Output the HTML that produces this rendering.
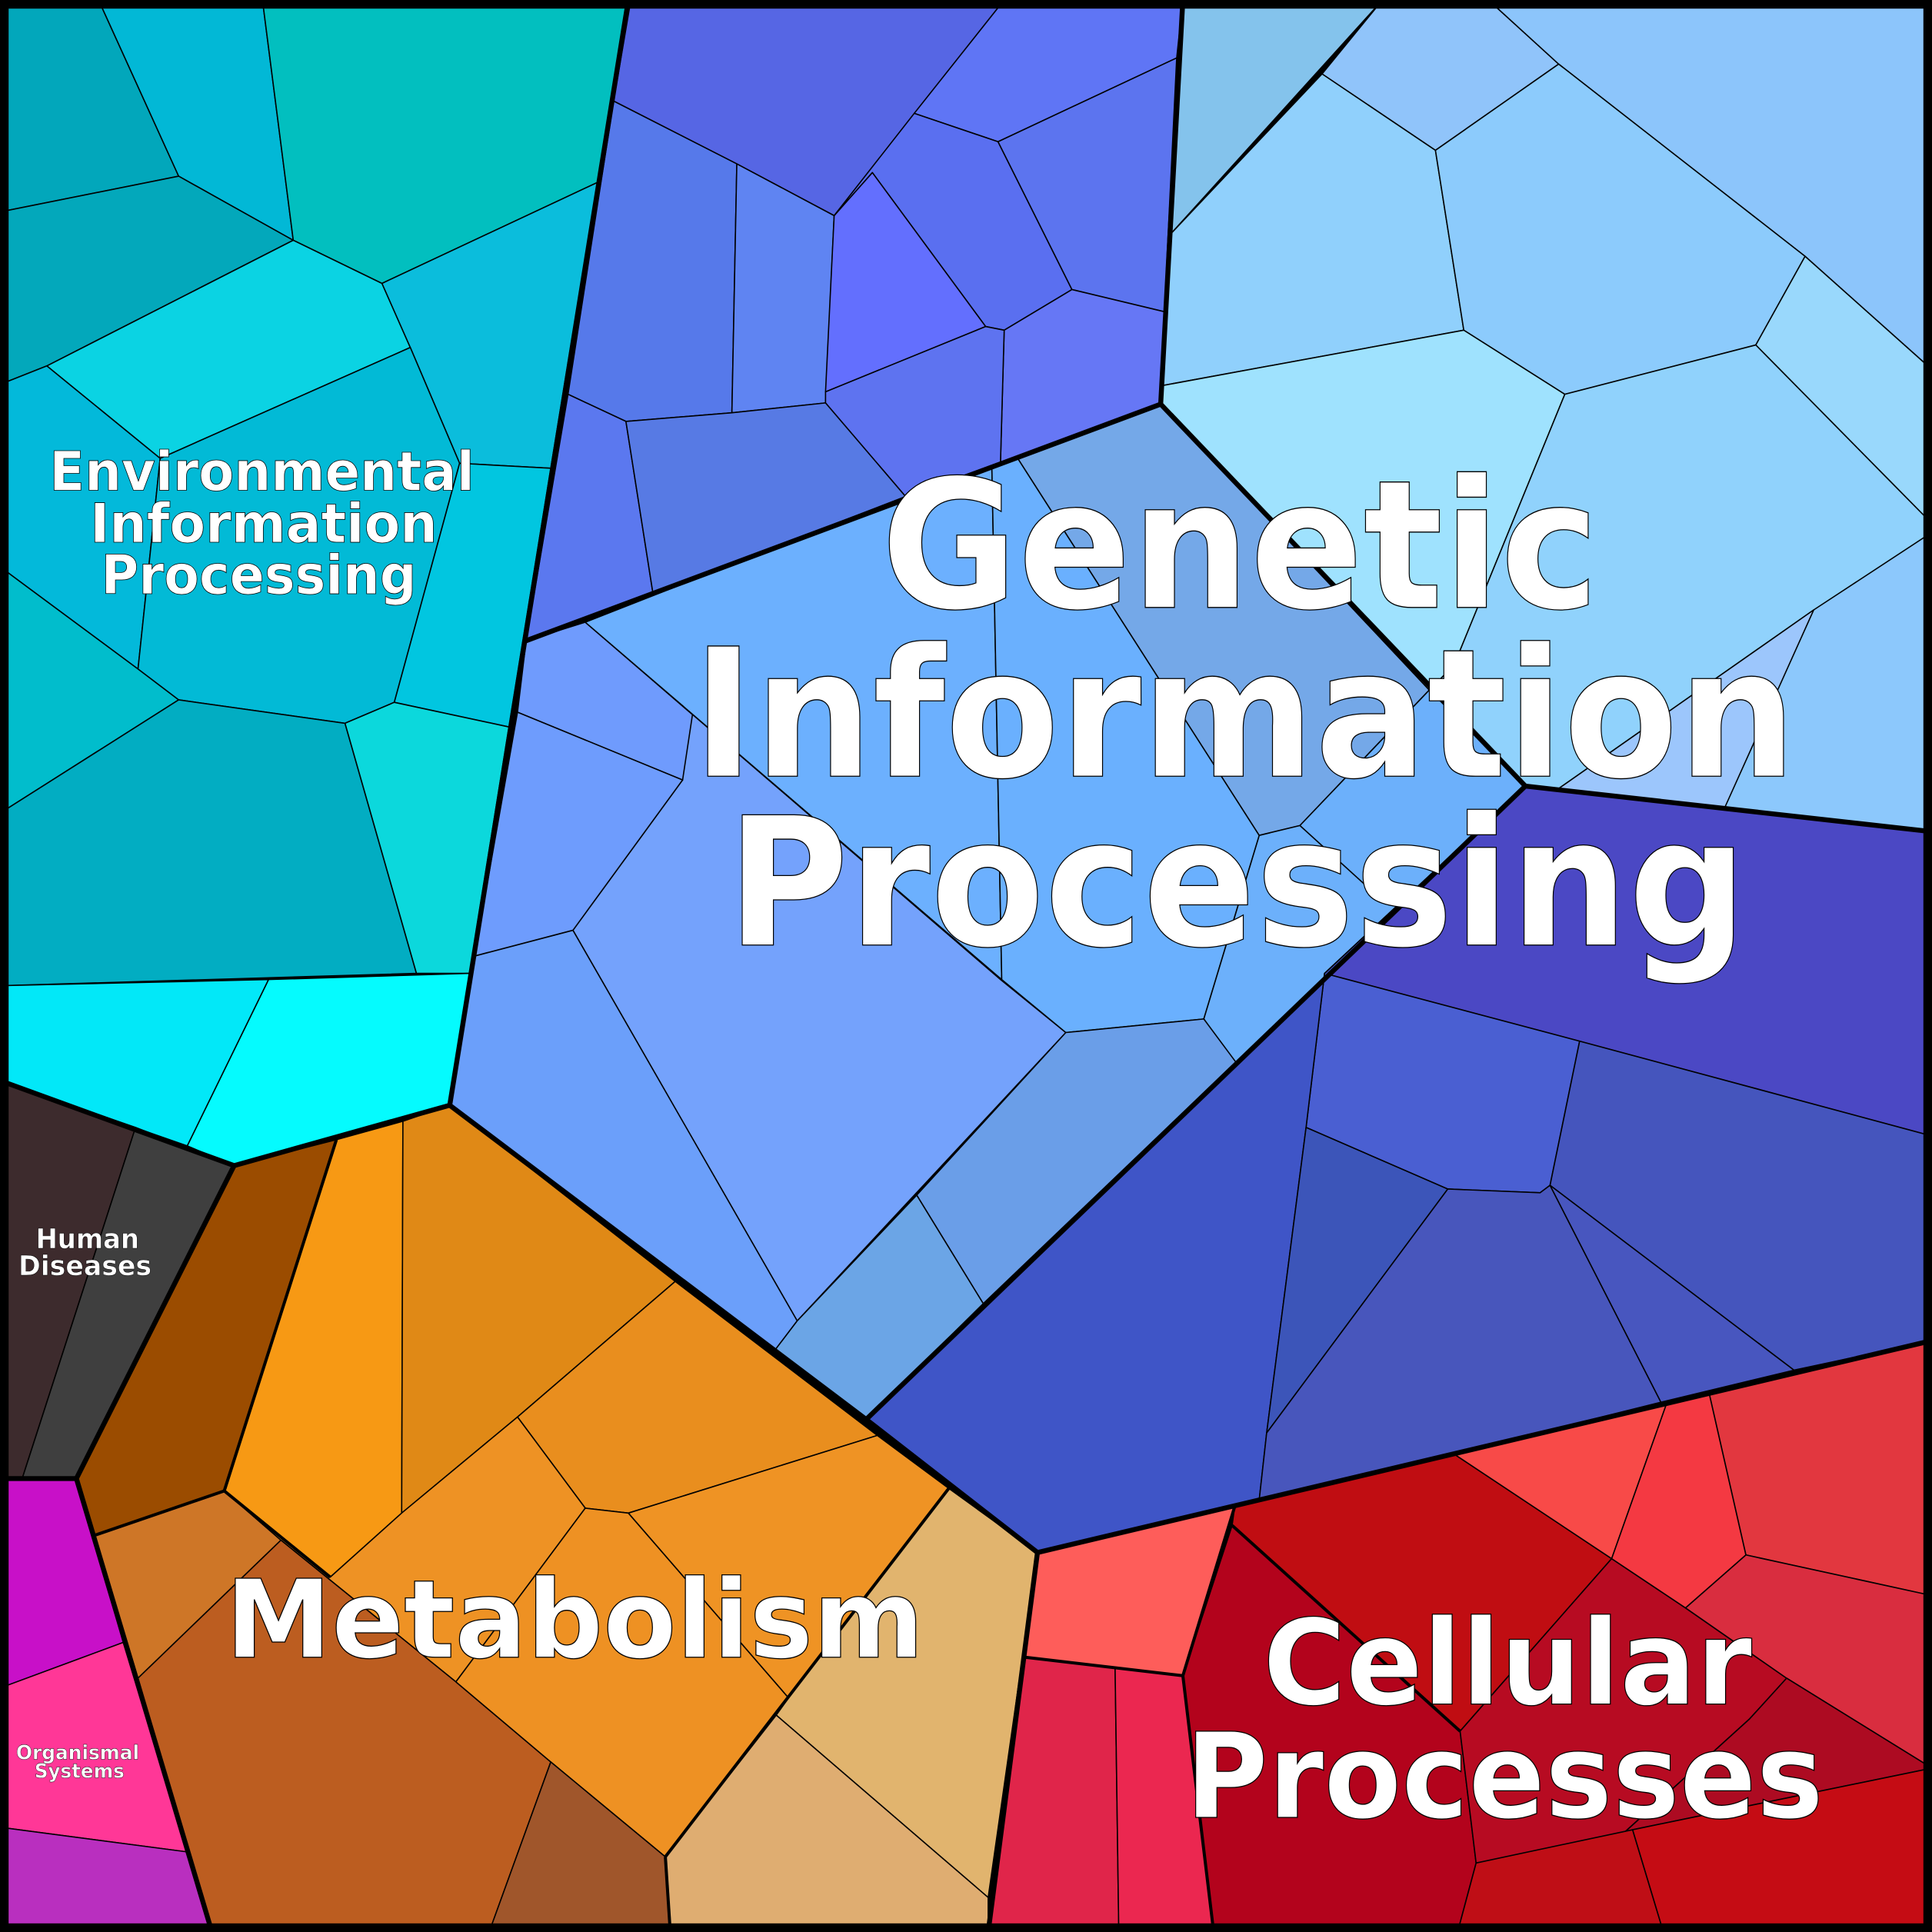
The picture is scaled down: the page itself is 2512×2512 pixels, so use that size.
<!DOCTYPE html>
<html><head><meta charset="utf-8"><style>html,body{margin:0;padding:0;background:#000}svg{display:block}</style></head><body>
<svg xmlns="http://www.w3.org/2000/svg" width="2512" height="2512" viewBox="0 0 1568 1568">
<g stroke="#000" stroke-width="1" stroke-linejoin="round">
<!-- Environmental -->
<polygon fill="#02a7bb" points="0,0 80,0 145,143 0,172"/>
<polygon fill="#02b8d6" points="80,0 213,0 238,195 145,143"/>
<polygon fill="#02bfbf" points="213,0 512,0 485,148 310,230 238,195"/>
<polygon fill="#03a8bb" points="0,172 145,143 238,195 38,297 0,312"/>
<polygon fill="#0bd3e3" points="38,297 238,195 310,230 333,282 130,372"/>
<polygon fill="#0bbddc" points="310,230 485,148 447,380 373,376 333,282"/>
<polygon fill="#03b9da" points="0,312 38,297 130,372 112,543 0,460"/>
<polygon fill="#02bad6" points="130,372 333,282 373,376 320,570 280,587 145,568 112,543"/>
<polygon fill="#01c6e0" points="373,376 447,380 413,590 320,570"/>
<polygon fill="#01bdcc" points="0,460 112,543 145,568 0,660"/>
<polygon fill="#02adc2" points="0,660 145,568 280,587 338,790 0,800"/>
<polygon fill="#0cd8dc" points="280,587 320,570 413,590 381,790 338,790"/>
<polygon fill="#02e8f8" points="0,800 218,795 152,930 0,877"/>
<polygon fill="#05fbfe" points="218,795 381,790 365,897 190,946 152,930"/>
<!-- Human diseases -->
<polygon fill="#3d2b2d" points="0,877 110,915 18,1200 0,1200"/>
<polygon fill="#3f3f3f" points="110,915 190,946 62,1200 18,1200"/>
<!-- Organismal -->
<polygon fill="#c810c8" points="0,1200 62,1200 100,1333 0,1370"/>
<polygon fill="#ff3797" points="0,1370 100,1333 152,1503 0,1483"/>
<polygon fill="#b92fbf" points="0,1483 152,1503 172,1568 0,1568"/>
<!-- Metabolism -->
<polygon fill="#9b4c00" points="190,946 273,925 182,1210 77,1246 62,1200"/>
<polygon fill="#f79914" points="273,925 327,910 326,1228 268,1280 182,1210"/>
<polygon fill="#e08916" points="327,910 365,897 548,1040 420,1150 326,1228"/>
<polygon fill="#e98e1e" points="548,1040 712,1165 510,1228 475,1224 420,1150"/>
<polygon fill="#ce7627" points="77,1246 182,1210 228,1250 112,1362"/>
<polygon fill="#ee9224" points="182,1210 268,1280 326,1228 420,1150 475,1224 370,1365 228,1250"/>
<polygon fill="#bc5d20" points="112,1362 228,1250 370,1365 447,1430 397,1568 172,1568"/>
<polygon fill="#ee9123" points="475,1224 510,1228 640,1378 540,1507 447,1430 370,1365"/>
<polygon fill="#ef9324" points="510,1228 712,1165 770,1208 640,1378"/>
<polygon fill="#a0562b" points="447,1430 540,1507 544,1568 397,1568"/>
<polygon fill="#e1b46e" points="640,1378 770,1208 842,1260 802,1540 630,1392"/>
<polygon fill="#dfad71" points="540,1507 630,1392 802,1540 802,1568 544,1568"/>
<!-- Genetic top purple-blue -->
<polygon fill="#5666e4" points="512,0 815,0 677,175 598,133 498,82"/>
<polygon fill="#5f75f5" points="815,0 960,0 955,47 810,115 742,92"/>
<polygon fill="#5679ea" points="498,82 598,133 594,335 508,342 461,320"/>
<polygon fill="#5f84f2" points="598,133 677,175 670,327 594,335"/>
<polygon fill="#636ffe" points="708,140 800,265 670,318 677,175"/>
<polygon fill="#5a6ff0" points="742,92 810,115 870,235 815,268 800,265 708,140 677,175"/>
<polygon fill="#5c74ef" points="810,115 955,47 945,253 870,235"/>
<polygon fill="#6677f5" points="870,235 945,253 942,328 812,375 815,268"/>
<polygon fill="#5e73f0" points="670,318 800,265 815,268 812,375 735,403 670,327"/>
<polygon fill="#5b78ef" points="461,320 508,342 530,482 427,520"/>
<polygon fill="#577ae4" points="508,342 594,335 670,327 735,403 530,482"/>
<!-- Genetic light blue -->
<polygon fill="#74a2fc" points="475,505 812,795 865,838 647,1072 465,755 554,633"/>
<polygon fill="#6f9bfd" points="427,520 475,505 562,580 554,633 420,578"/>
<polygon fill="#6e9cfd" points="420,578 554,633 465,755 385,776"/>
<polygon fill="#6cb0fe" points="475,505 735,403 805,380 813,795"/>
<polygon fill="#6ab0fe" points="805,380 826,372 1022,678 977,827 865,838 813,795"/>
<polygon fill="#74a8e8" points="826,372 942,328 1160,560 1055,670 1022,678"/>
<polygon fill="#6cb0fb" points="1022,678 1055,670 1160,560 1238,638 1003,864 977,827"/>
<polygon fill="#6b9ffa" points="385,776 465,755 647,1072 628,1097 365,897"/>
<polygon fill="#6a9ee8" points="865,838 977,827 1003,862 798,1058 744,970"/>
<polygon fill="#6ba5e6" points="628,1097 647,1072 744,970 798,1058 703,1152"/>
<!-- sky blue -->
<polygon fill="#84c3ec" points="960,0 1122,0 950,190"/>
<polygon fill="#90c4fa" points="1122,0 1208,0 1265,52 1165,122 1073,60"/>
<polygon fill="#8cc5fb" points="1208,0 1568,0 1568,300 1465,208 1265,52"/>
<polygon fill="#90d0fc" points="1073,60 1165,122 1188,268 943,313 950,190"/>
<polygon fill="#8ccbfc" points="1165,122 1265,52 1465,208 1425,280 1270,320 1188,268"/>
<polygon fill="#99d8fc" points="1465,208 1568,300 1568,425 1425,280"/>
<polygon fill="#9fe2fe" points="943,313 1188,268 1270,320 1180,540 1160,560 942,328"/>
<polygon fill="#90d2fc" points="1270,320 1425,280 1568,425 1568,432 1265,640 1240,638 1160,560 1180,540"/>
<polygon fill="#8cc8fc" points="1265,640 1472,495 1568,432 1568,675 1400,655"/>
<polygon fill="#9cc6fc" points="1265,640 1472,495 1400,655"/>
<!-- dark blue -->
<polygon fill="#4b48c4" points="1238,638 1568,675 1568,922 1282,845 1075,790"/>
<polygon fill="#4a5fd2" points="1075,790 1282,845 1258,962 1250,968 1175,965 1060,915"/>
<polygon fill="#4555bd" points="1282,845 1568,922 1568,1088 1456,1112 1258,962"/>
<polygon fill="#3f55c7" points="1238,638 1075,790 1060,915 1028,1163 1022,1217 842,1260 703,1152"/>
<polygon fill="#3c55b9" points="1060,915 1175,965 1028,1163"/>
<polygon fill="#4856bc" points="1175,965 1250,968 1258,962 1348,1138 1180,1180 1022,1217 1028,1163"/>
<polygon fill="#4856bf" points="1258,962 1456,1112 1348,1138"/>
<!-- Cellular -->
<polygon fill="#fe5d5a" points="842,1260 1002,1223 960,1360 832,1345"/>
<polygon fill="#e0254a" points="832,1345 905,1353 908,1568 802,1568"/>
<polygon fill="#eb2750" points="905,1353 960,1360 985,1568 908,1568"/>
<polygon fill="#c00d12" points="1002,1223 1180,1180 1308,1265 1185,1405 1000,1238"/>
<polygon fill="#b3031c" points="960,1360 1000,1238 1185,1405 1198,1512 1183,1568 985,1568"/>
<polygon fill="#b70b22" points="1308,1265 1368,1305 1450,1362 1420,1395 1313,1492 1198,1512 1185,1405"/>
<polygon fill="#f84a48" points="1180,1180 1353,1138 1308,1265"/>
<polygon fill="#f43942" points="1353,1138 1387,1130 1417,1262 1368,1305 1308,1265"/>
<polygon fill="#e2373f" points="1387,1130 1568,1088 1568,1295 1417,1262"/>
<polygon fill="#d92d3f" points="1417,1262 1568,1295 1568,1435 1450,1362 1368,1305"/>
<polygon fill="#ad0b22" points="1450,1362 1568,1435 1325,1485 1313,1492 1420,1395"/>
<polygon fill="#bf0e16" points="1198,1512 1325,1485 1350,1568 1183,1568"/>
<polygon fill="#c50c14" points="1325,1485 1568,1435 1568,1568 1350,1568"/>
</g>
<polyline points="1055,670 1110,720" fill="none" stroke="#000" stroke-width="1"/>
<g fill="none" stroke="#000" stroke-width="4" stroke-linejoin="round" stroke-linecap="round">
<polyline points="510,0 365,897"/>
<polyline points="0,877 190,946 365,897"/>
<polyline points="190,946 62,1200 0,1200"/>
<polyline points="62,1200 172,1568"/>
<polyline points="365,897 703,1152 842,1260 802,1568"/>
<polyline points="842,1260 1568,1088"/>
<polyline points="703,1152 1238,638 1568,675"/>
<polyline points="960,0 942,328 1238,638"/>
<polyline points="427,520 942,328"/>
</g>
<g fill="none" stroke="#000" stroke-width="2.5" stroke-linejoin="round">
<polyline points="273,925 182,1210 77,1246"/>
<polyline points="182,1210 268,1280"/>
<polyline points="540,1507 770,1208"/>
<polyline points="540,1507 544,1568"/>
<polyline points="1002,1223 960,1360 985,1568"/>
<polyline points="832,1345 960,1360"/>
<polyline points="1000,1238 1185,1405"/>
</g>
<rect x="3.5" y="3.5" width="1561" height="1561" fill="none" stroke="#000" stroke-width="7"/>
<g font-family="DejaVu Sans, Liberation Sans, sans-serif" font-weight="bold" fill="#fff" stroke="#000" stroke-width="0.8">
<text x="715" y="493" font-size="145" textLength="583" lengthAdjust="spacingAndGlyphs">Genetic</text>
<text x="562" y="630" font-size="145" textLength="896" lengthAdjust="spacingAndGlyphs">Information</text>
<text x="590" y="767" font-size="145" textLength="828" lengthAdjust="spacingAndGlyphs">Processing</text>
<text x="40" y="398" font-size="44" stroke-width="0.5" textLength="345" lengthAdjust="spacingAndGlyphs">Environmental</text>
<text x="73" y="440" font-size="44" stroke-width="0.5" textLength="282" lengthAdjust="spacingAndGlyphs">Information</text>
<text x="82" y="482" font-size="44" stroke-width="0.5" textLength="256" lengthAdjust="spacingAndGlyphs">Processing</text>
<text x="183" y="1345" font-size="88" textLength="567" lengthAdjust="spacingAndGlyphs">Metabolism</text>
<text x="1025" y="1383" font-size="96" textLength="397" lengthAdjust="spacingAndGlyphs">Cellular</text>
<text x="962" y="1475" font-size="96" textLength="518" lengthAdjust="spacingAndGlyphs">Processes</text>
<text x="29" y="1013" font-size="22" stroke-width="0.3" textLength="84" lengthAdjust="spacingAndGlyphs">Human</text>
<text x="15" y="1035" font-size="22" stroke-width="0.3" textLength="108" lengthAdjust="spacingAndGlyphs">Diseases</text>
<text x="13" y="1428" font-size="16" stroke-width="0.25" textLength="100" lengthAdjust="spacingAndGlyphs">Organismal</text>
<text x="28" y="1443" font-size="16" stroke-width="0.25" textLength="73" lengthAdjust="spacingAndGlyphs">Systems</text>
</g>
</svg>
</body></html>
